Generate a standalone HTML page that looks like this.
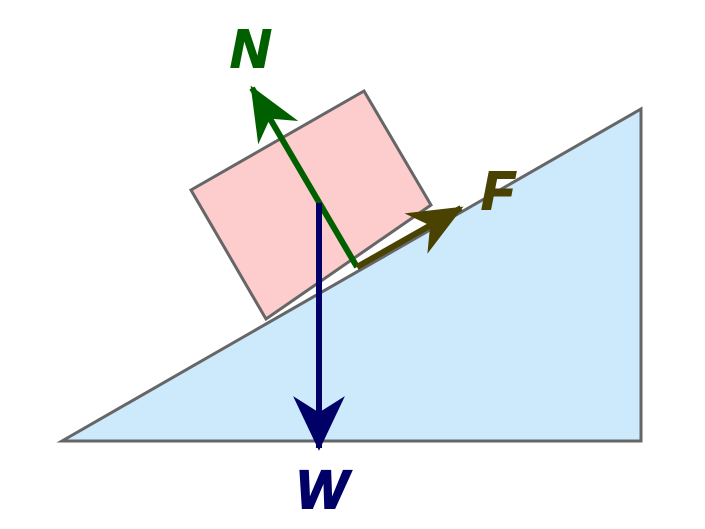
<!DOCTYPE html>
<html><head><style>html,body{margin:0;padding:0;background:#fff;}svg{display:block}</style></head>
<body>
<svg width="705" height="529" viewBox="0 0 705 529" xmlns="http://www.w3.org/2000/svg">
<defs>
<marker id="mN" markerUnits="userSpaceOnUse" markerWidth="60" markerHeight="60" viewBox="-40 -20 44 40" refX="0" refY="0" orient="auto"><path d="M2,0 L-38,-17 L-26,0 L-38,17 Z" fill="#006000"/></marker>
<marker id="mF" markerUnits="userSpaceOnUse" markerWidth="60" markerHeight="60" viewBox="-40 -20 44 40" refX="0" refY="0" orient="auto"><path d="M2,0 L-38,-17 L-26,0 L-38,17 Z" fill="#4a4200"/></marker>
<marker id="mW" markerUnits="userSpaceOnUse" markerWidth="60" markerHeight="60" viewBox="-40 -20 44 40" refX="0" refY="0" orient="auto"><path d="M2,0 L-38,-19 L-26,0 L-38,19 Z" fill="#000066"/></marker>
</defs>
<polygon points="62,441 641,109 641,441" fill="#cdeafd" stroke="#666" stroke-width="3"/>
<polygon points="191,190 364,91 431,205 266,319" fill="#fdcccc" stroke="#666" stroke-width="3"/>
<line x1="357" y1="267" x2="252" y2="88" stroke="#006000" stroke-width="6" marker-end="url(#mN)"/>
<line x1="357" y1="267" x2="461" y2="208" stroke="#4a4200" stroke-width="6" marker-end="url(#mF)"/>
<line x1="319" y1="203" x2="319" y2="448" stroke="#000066" stroke-width="6" marker-end="url(#mW)"/>
<g font-family="Liberation Sans, sans-serif" font-weight="bold" font-style="italic" font-size="54" text-anchor="middle" stroke-width="2">
<text x="250" y="67" fill="#006000" stroke="#006000">N</text>
<text x="498" y="209" fill="#4a4200" stroke="#4a4200">F</text>
<text x="322" y="508" fill="#000066" stroke="#000066">W</text>
</g>
</svg>
</body></html>
